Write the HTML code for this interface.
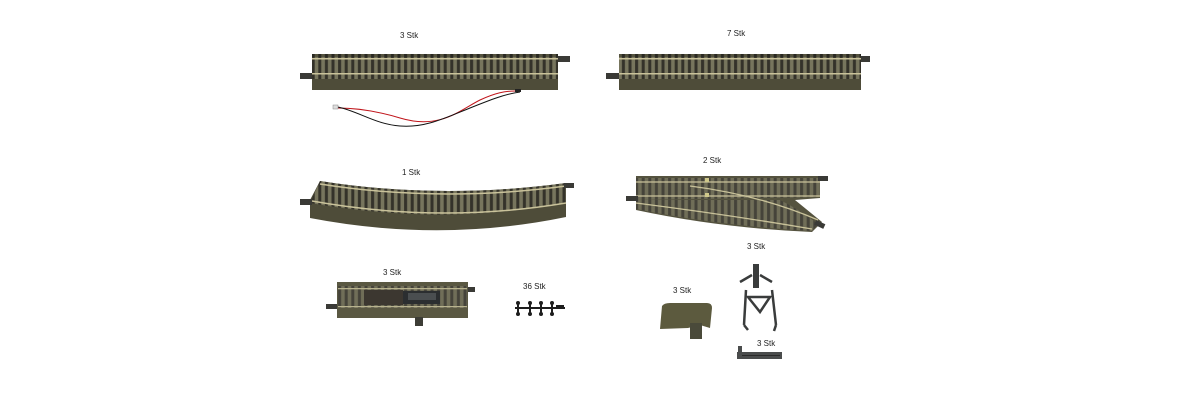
<!DOCTYPE html>
<html><head><meta charset="utf-8"><style>
html,body{margin:0;padding:0;background:#fff;}
svg{display:block;}
text{font-family:"Liberation Sans",sans-serif;font-size:8px;fill:#222;}
</style></head><body>
<svg width="1200" height="420" viewBox="0 0 1200 420" xmlns="http://www.w3.org/2000/svg">
<defs>
<pattern id="ties" x="0" y="0" width="6.6" height="10" patternUnits="userSpaceOnUse">
<rect width="6.6" height="10" fill="#77755d"/>
<rect x="1.5" width="3" height="10" fill="#34322a"/>
</pattern>
<pattern id="ties2" x="0" y="0" width="6.6" height="10" patternUnits="userSpaceOnUse">
<rect width="6.6" height="10" fill="#706e58"/>
<rect x="1.5" width="3" height="10" fill="#45433a"/>
</pattern>
<pattern id="dash" x="0" y="0" width="6.6" height="3" patternUnits="userSpaceOnUse">
<rect width="6.6" height="3" fill="#55533f"/>
<rect x="1.5" width="3" height="3" fill="#2a2922"/>
</pattern>
</defs>

<!-- labels -->
<text x="400" y="38">3 Stk</text>
<text x="727" y="36">7 Stk</text>
<text x="402" y="175">1 Stk</text>
<text x="703" y="163">2 Stk</text>
<text x="747" y="249">3 Stk</text>
<text x="383" y="275">3 Stk</text>
<text x="523" y="289">36 Stk</text>
<text x="673" y="293">3 Stk</text>
<text x="757" y="346">3 Stk</text>

<!-- straight 1 -->
<g>
<rect x="300" y="73" width="14" height="6" fill="#3a3a36"/>
<rect x="556" y="56" width="14" height="6" fill="#3a3a36"/>
<rect x="312" y="54" width="246" height="36" fill="#55533f"/>
<rect x="312" y="56" width="246" height="24" fill="url(#ties)"/>
<rect x="312" y="54" width="246" height="3" fill="url(#dash)"/>
<rect x="312" y="79" width="246" height="11" fill="#4e4c39"/>
<rect x="312" y="58" width="246" height="1.5" fill="#c9c29a"/>
<rect x="312" y="73" width="246" height="1.5" fill="#c9c29a"/>
<path d="M338 108 C360 108 380 112 400 118 C440 130 460 110 480 100 C495 93 505 91 515 91" stroke="#c0141a" stroke-width="1" fill="none"/>
<path d="M338 107 C360 112 375 124 400 126 C425 128 445 118 470 108 C490 100 505 94 520 92" stroke="#111" stroke-width="1" fill="none"/>
<rect x="333" y="105" width="5" height="4" fill="#ddd" stroke="#888" stroke-width="0.5"/>
<rect x="515" y="89" width="6" height="3" fill="#222"/>
</g>

<!-- straight 2 -->
<g>
<rect x="606" y="73" width="15" height="6" fill="#3a3a36"/>
<rect x="859" y="56" width="11" height="6" fill="#3a3a36"/>
<rect x="619" y="54" width="242" height="36" fill="#55533f"/>
<rect x="619" y="56" width="242" height="24" fill="url(#ties)"/>
<rect x="619" y="54" width="242" height="3" fill="url(#dash)"/>
<rect x="619" y="79" width="242" height="11" fill="#4e4c39"/>
<rect x="619" y="58" width="242" height="1.5" fill="#c9c29a"/>
<rect x="619" y="73" width="242" height="1.5" fill="#c9c29a"/>
</g>

<!-- curve -->
<g>
<path d="M320 181 Q440 200 566 183 L566 217 Q440 243 310 218 L310 200 Z" fill="#4e4c39"/>
<path d="M320 181 Q440 200 566 183 L566 203 Q440 226 310 203 Z" fill="url(#ties)"/>
<path d="M320 184 Q440 203 566 186" stroke="#c9c29a" stroke-width="1.5" fill="none"/>
<path d="M312 201 Q440 224 566 203" stroke="#c9c29a" stroke-width="1.5" fill="none"/>
<rect x="300" y="199" width="12" height="6" fill="#3a3a36"/>
<rect x="564" y="183" width="10" height="5" fill="#3a3a36"/>
</g>

<!-- switch -->
<g>
<path d="M636 176 L820 176 L820 198 L795 200 L822 222 L812 232 Q720 228 636 210 Z" fill="#55533f"/>
<path d="M636 178 L820 178 L820 197 L636 200 Z" fill="url(#ties2)"/>
<path d="M690 200 L780 200 Q800 210 818 224 L812 231 Q720 226 636 209 L636 200 Z" fill="url(#ties2)"/>
<path d="M636 182 L820 182" stroke="#c9c29a" stroke-width="1.3"/>
<path d="M636 196 L820 196" stroke="#c9c29a" stroke-width="1.3"/>
<path d="M690 186 Q760 195 818 220" stroke="#c9c29a" stroke-width="1.3" fill="none"/>
<path d="M636 203 Q730 215 812 229" stroke="#c9c29a" stroke-width="1.3" fill="none"/>
<rect x="626" y="196" width="12" height="5" fill="#3a3a36"/>
<rect x="818" y="176" width="10" height="5" fill="#3a3a36"/>
<rect x="815" y="222" width="10" height="5" fill="#3a3a36" transform="rotate(25 820 224)"/>
<rect x="705" y="178" width="4" height="4" fill="#cfc88a"/>
<rect x="705" y="193" width="4" height="4" fill="#cfc88a"/>
</g>

<!-- uncoupler track -->
<g>
<rect x="326" y="304" width="12" height="5" fill="#3a3a36"/>
<rect x="465" y="287" width="10" height="5" fill="#3a3a36"/>
<rect x="337" y="282" width="131" height="36" fill="#5a5842"/>
<rect x="338" y="286" width="129" height="22" fill="url(#ties2)"/>
<rect x="364" y="290" width="39" height="15" fill="#3c3730"/>
<rect x="403" y="291" width="37" height="13" fill="#2b2e30"/>
<rect x="408" y="293" width="28" height="7" fill="#4a4e50"/>
<rect x="338" y="288" width="129" height="1.3" fill="#b8b38e"/>
<rect x="338" y="306" width="129" height="1.3" fill="#b8b38e"/>
<rect x="415" y="317" width="8" height="9" fill="#3d3d36"/>
</g>

<!-- clips -->
<g fill="#1e1e1e">
<rect x="515" y="307" width="50" height="2"/>
<rect x="556" y="305" width="8" height="4"/>
<circle cx="518" cy="303" r="2"/><circle cx="530" cy="303" r="2"/><circle cx="541" cy="303" r="2"/><circle cx="552" cy="303" r="2"/>
<circle cx="518" cy="314" r="2"/><circle cx="530" cy="314" r="2"/><circle cx="541" cy="314" r="2"/><circle cx="552" cy="314" r="2"/>
<rect x="517" y="303" width="2" height="11"/><rect x="529" y="303" width="2" height="11"/><rect x="540" y="303" width="2" height="11"/><rect x="551" y="303" width="2" height="11"/>
</g>

<!-- cover -->
<g>
<path d="M662 306 Q664 303 670 303 L707 303 Q712 303 712 308 L710 328 L700 325 L688 328 L660 329 Z" fill="#5c5a3e"/>
<rect x="690" y="323" width="12" height="16" fill="#4a4a3a"/>
</g>

<!-- drive mechanism -->
<g fill="none" stroke="#3a3c3c" stroke-width="2.5">
<path d="M740 282 L752 275 M772 282 L760 275"/>
<path d="M746 290 L744 325 M772 290 L776 325"/>
<path d="M748 297 L760 312 L770 297 Z"/>
<path d="M744 325 L748 330 M776 325 L774 331"/>
</g>
<rect x="753" y="264" width="6" height="24" fill="#3a3c3c"/>

<!-- small part -->
<g>
<rect x="737" y="352" width="45" height="7" fill="#4a4c4c"/>
<rect x="738" y="346" width="4" height="7" fill="#4a4c4c"/>
<rect x="742" y="355" width="38" height="1" fill="#2a2a2a"/>
</g>
</svg>
</body></html>
